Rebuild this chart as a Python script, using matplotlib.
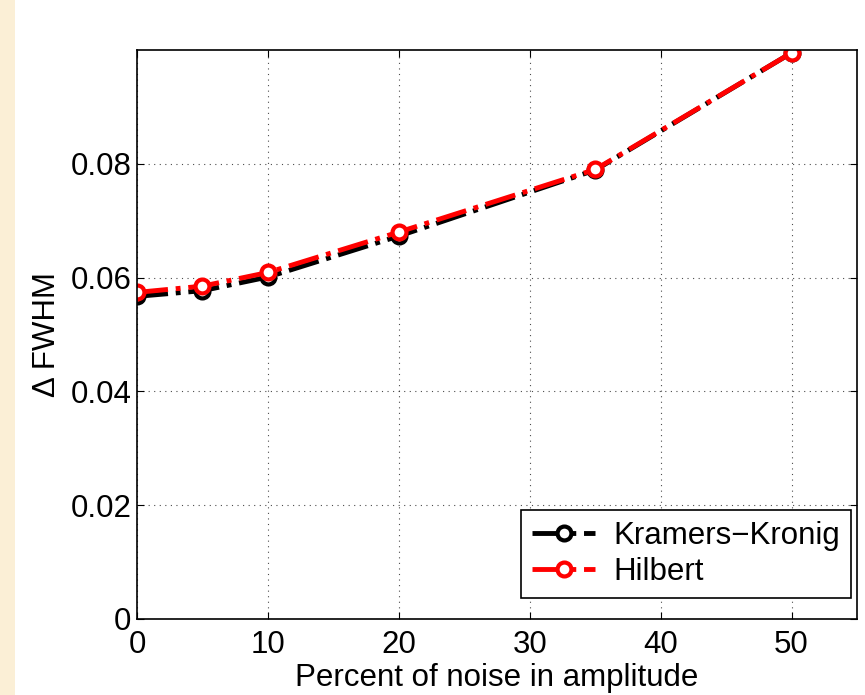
import matplotlib.pyplot as plt
from matplotlib.patches import Rectangle

noise = [0, 5, 10, 20, 35, 50]
kk = [0.0567, 0.0577, 0.0601, 0.0673, 0.0789, 0.0995]
hilbert = [0.0574, 0.0585, 0.0609, 0.0680, 0.0790, 0.0995]

plt.rcParams["font.family"] = ["Liberation Sans", "DejaVu Sans"]

fig = plt.figure(figsize=(8.65, 6.95), dpi=100)
fig.patch.set_facecolor("white")
# beige strip on the left edge
fig.patches.append(Rectangle((0, 0), 15 / 865, 1, transform=fig.transFigure,
                             facecolor="#fbefd6", edgecolor="none", zorder=0))

ax = fig.add_axes([137 / 865, 76 / 695, 720 / 865, 569 / 695])

ax.plot(noise, kk, "-.", color="black", linewidth=3.5, marker="o", markersize=10,
        markerfacecolor="white", markeredgewidth=3, label="Kramers\u2212Kronig")
ax.plot(noise, hilbert, "-.", color="red", linewidth=3.5, marker="o", markersize=10,
        markerfacecolor="white", markeredgewidth=3, label="Hilbert")

ax.set_xlim(0, 55)
ax.set_ylim(0, 0.1)
ax.set_xticks([0, 10, 20, 30, 40, 50])
ax.set_yticks([0, 0.02, 0.04, 0.06, 0.08])
ax.set_yticklabels(["0", "0.02", "0.04", "0.06", "0.08"])
ax.tick_params(direction="in", top=True, right=True, labelsize=22.5, length=5)
ax.tick_params(axis="x", pad=8)
ax.tick_params(axis="y", pad=4)
ax.grid(True, linestyle=(0, (1, 4)), color="black", linewidth=0.8, alpha=0.7)
for s in ax.spines.values():
    s.set_linewidth(1.2)

ax.set_xlabel("Percent of noise in amplitude", fontsize=22.5, labelpad=2)
ax.set_ylabel("\u0394 FWHM", fontsize=22.5, labelpad=6)

leg = ax.legend(loc="lower right", bbox_to_anchor=(0.992, 0.037), fontsize=22.5,
                fancybox=False, framealpha=1, edgecolor="black",
                handlelength=2.0, borderaxespad=0, handletextpad=0.6,
                labelspacing=0.2, borderpad=0.35)
leg.get_frame().set_linewidth(1.2)

fig.savefig("out.png", dpi=100, facecolor="white")
